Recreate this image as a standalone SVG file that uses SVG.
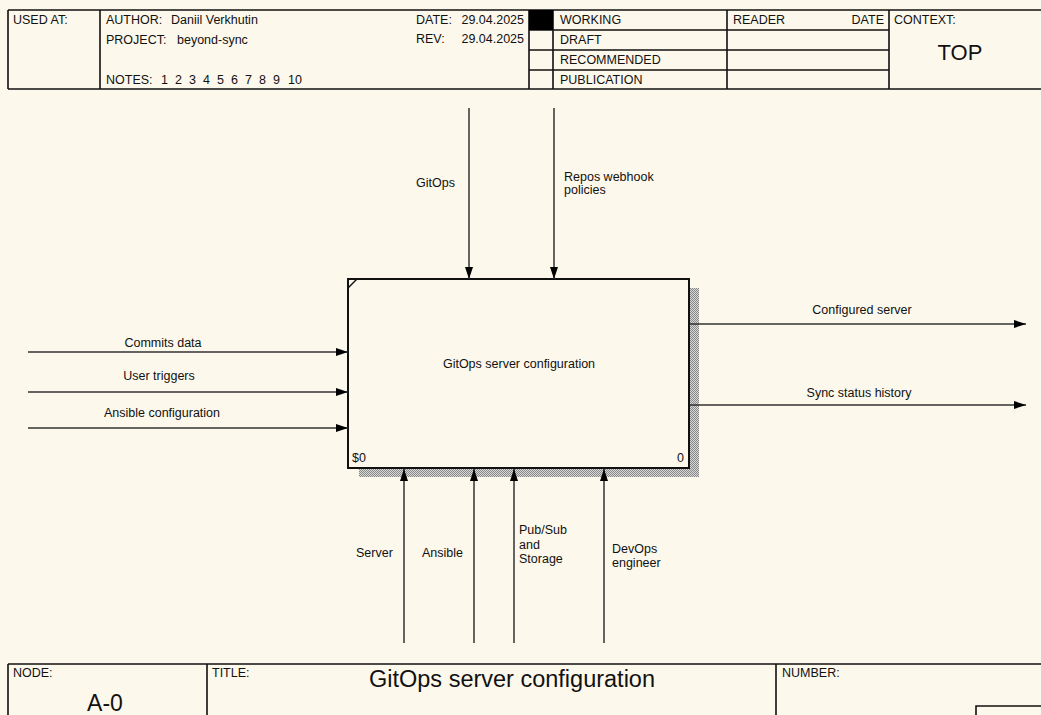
<svg xmlns="http://www.w3.org/2000/svg" width="1041" height="715" viewBox="0 0 1041 715">
<style>
text{font-family:"Liberation Sans",Arial,sans-serif;font-size:12.5px;fill:#111}
.big{font-size:23px}
.frame{stroke:#111;stroke-width:1.6;fill:none}
.arrow{stroke:#333;stroke-width:1.5;fill:none;marker-end:url(#ah)}
.mid{text-anchor:middle}
.end{text-anchor:end}
</style>
<defs>
<marker id="ah" markerUnits="userSpaceOnUse" markerWidth="13" markerHeight="9" refX="12" refY="4" orient="auto">
<path d="M0,0 L12,4 L0,8 z" fill="#000"/>
</marker>
<pattern id="hatch" width="2" height="2" patternUnits="userSpaceOnUse">
<rect width="2" height="2" fill="#d8d8d8"/>
<rect width="1" height="1" fill="#888"/>
<rect x="1" y="1" width="1" height="1" fill="#888"/>
</pattern>
</defs>
<rect width="1041" height="715" fill="#fdf8ec"/>

<g id="header">
<path class="frame" d="M8,10 H1041 M8,89 H1041 M8,10 V89 M100,10 V89 M529,10 V89 M553,10 V89 M727,10 V89 M889,10 V89 M529,30 H889 M529,50 H889 M529,70 H889"/>
<rect x="529" y="10" width="24" height="20" fill="#000"/>
<text x="13" y="24">USED AT:</text>
<text x="106" y="24">AUTHOR:</text><text x="171" y="24">Daniil Verkhutin</text>
<text x="106" y="44">PROJECT:</text><text x="177" y="44">beyond-sync</text>
<text x="106" y="84">NOTES:</text>
<text x="161" y="84">1</text><text x="175" y="84">2</text><text x="189" y="84">3</text><text x="203" y="84">4</text><text x="217" y="84">5</text><text x="231" y="84">6</text><text x="245" y="84">7</text><text x="259" y="84">8</text><text x="273" y="84">9</text><text x="288" y="84">10</text>
<text x="416" y="24">DATE:</text><text x="524" y="24" class="end">29.04.2025</text>
<text x="416" y="43">REV:</text><text x="524" y="43" class="end">29.04.2025</text>
<text x="560" y="24">WORKING</text>
<text x="560" y="44">DRAFT</text>
<text x="560" y="64">RECOMMENDED</text>
<text x="560" y="84">PUBLICATION</text>
<text x="733" y="24">READER</text>
<text x="884" y="24" class="end">DATE</text>
<text x="894" y="24">CONTEXT:</text>
<text x="960" y="60" class="mid big" style="font-size:22px">TOP</text>
</g>

<g id="footer">
<path class="frame" d="M8,664 H1041 M8,664 V715 M207,664 V715 M776,664 V715 M976,715 V706 H1041"/>
<text x="13" y="677">NODE:</text>
<text x="105" y="711" class="mid big">A-0</text>
<text x="212" y="677">TITLE:</text>
<text x="512" y="687" class="mid big" style="font-size:23.5px">GitOps server configuration</text>
<text x="782" y="677">NUMBER:</text>
</g>

<g id="node-A0">
<rect x="689" y="288" width="10" height="189" fill="url(#hatch)"/>
<rect x="359" y="468" width="340" height="9" fill="url(#hatch)"/>
<rect x="348" y="279" width="341" height="189" fill="#fdf8ec" stroke="#111" stroke-width="2"/>
<line x1="348" y1="288" x2="357" y2="279" stroke="#111" stroke-width="1.5"/>
<text x="519" y="368" class="mid">GitOps server configuration</text>
<text x="352" y="462">$0</text>
<text x="684" y="462" class="end">0</text>
</g>

<g id="connectors">
<line class="arrow" x1="28" y1="352" x2="348" y2="352"/>
<line class="arrow" x1="28" y1="392" x2="348" y2="392"/>
<line class="arrow" x1="28" y1="428" x2="348" y2="428"/>
<line class="arrow" x1="469" y1="108" x2="469" y2="279"/>
<line class="arrow" x1="554" y1="108" x2="554" y2="279"/>
<line class="arrow" x1="690" y1="324" x2="1026" y2="324"/>
<line class="arrow" x1="690" y1="405" x2="1026" y2="405"/>
<line class="arrow" x1="404" y1="643" x2="404" y2="469"/>
<line class="arrow" x1="474" y1="643" x2="474" y2="469"/>
<line class="arrow" x1="514" y1="643" x2="514" y2="469"/>
<line class="arrow" x1="604" y1="643" x2="604" y2="469"/>
<text x="163" y="347" class="mid">Commits data</text>
<text x="159" y="380" class="mid">User triggers</text>
<text x="162" y="417" class="mid">Ansible configuration</text>
<text x="416" y="187">GitOps</text>
<text x="564" y="181">Repos webhook</text>
<text x="564" y="194">policies</text>
<text x="862" y="314" class="mid">Configured server</text>
<text x="859" y="397" class="mid">Sync status history</text>
<text x="356" y="557">Server</text>
<text x="422" y="557">Ansible</text>
<text x="519" y="534">Pub/Sub</text>
<text x="519" y="549">and</text>
<text x="519" y="563">Storage</text>
<text x="612" y="553">DevOps</text>
<text x="612" y="567">engineer</text>
</g>
</svg>
